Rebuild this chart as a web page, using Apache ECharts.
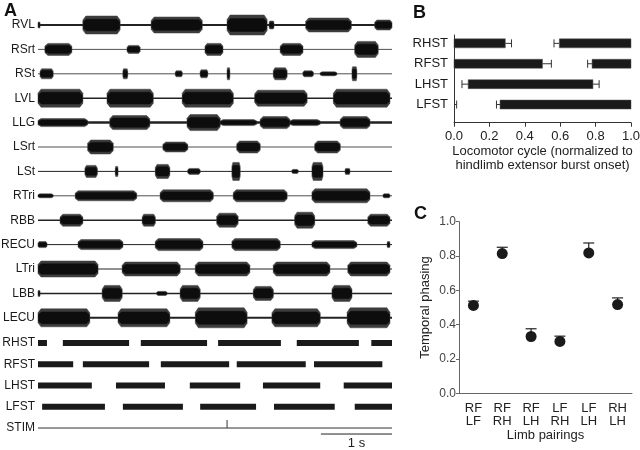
<!DOCTYPE html>
<html><head><meta charset="utf-8">
<script src="https://cdn.jsdelivr.net/npm/echarts@6/dist/echarts.min.js"></script>
<style>html,body{margin:0;padding:0;background:#fff}#c{width:640px;height:450px}</style>
</head><body><div id="c"></div>
<script>
// ---------- Panel A data ----------
const traceEnd = 5.13; // seconds shown
const emgNames = ['RVL','RSrt','RSt','LVL','LLG','LSrt','LSt','RTri','RBB','RECU','LTri','LBB','LECU'];
// bursts: [start (s), end (s), amplitude]
const RVL  = [[0,0.03,3],[0.65,1.19,9],[1.64,2.38,8],[2.74,3.32,10],[3.35,3.42,4],[3.88,4.54,7],[4.88,5.13,5]];
const RSrt = [[0.10,0.49,6],[1.29,1.48,4],[2.42,2.68,6],[3.51,3.84,6],[4.59,4.93,8]];
const RSt  = [[0.03,0.22,5],[1.23,1.30,5],[1.99,2.09,3],[2.35,2.46,4],[2.74,2.78,6],[3.41,3.61,6],[3.84,3.99,3],[4.09,4.33,2],[4.55,4.62,7]];
const LVL  = [[0,0.65,9],[1.00,1.67,9],[2.09,2.83,9],[3.14,3.90,8],[4.28,5.10,9]];
const LLG  = [[0,0.72,4],[1.04,1.62,7],[2.16,2.64,8],[2.64,3.17,3],[3.22,3.65,6],[3.65,4.09,3],[4.38,4.81,6]];
const LSrt = [[0.72,1.09,7],[1.81,2.17,5],[2.88,3.22,6],[4.01,4.38,6]];
const LSt  = [[0.68,0.86,6],[1.12,1.16,5],[1.70,1.91,7],[2.17,2.35,3],[2.81,2.93,9],[3.68,3.77,2],[3.97,4.13,9],[4.45,4.52,3]];
const RTri = [[0,0.22,2],[0.54,1.43,5],[1.77,2.54,6],[2.83,3.61,6],[3.97,4.81,7],[5.00,5.10,2]];
const RBB  = [[0.32,0.65,6],[1.51,1.70,6],[2.59,2.90,7],[3.72,4.01,8],[4.78,5.10,6]];
const RECU = [[0,0.13,3],[0.58,1.23,5],[1.70,2.39,6],[2.81,3.51,6],[3.97,4.62,4],[5.06,5.10,3]];
const LTri = [[0,0.87,8],[1.22,2.06,7],[2.28,3.07,7],[3.41,4.23,7],[4.49,5.10,7]];
const LBB  = [[0,0.03,3],[0.93,1.22,8],[1.72,1.87,2],[2.06,2.35,8],[3.12,3.41,7],[4.26,4.55,8]];
const LECU = [[0,0.75,9],[1.16,1.91,9],[2.28,3.03,10],[3.39,4.09,9],[4.48,5.10,10]];
const emgBursts = [RVL,RSrt,RSt,LVL,LLG,LSrt,LSt,RTri,RBB,RECU,LTri,LBB,LECU];

const stanceRows = ['RHST','RFST','LHST','LFST','STIM'];
const RHST = [[0,0.13],[0.36,1.32],[1.49,2.45],[2.61,3.52],[3.75,4.65],[4.83,5.13]];
const RFST = [[0,0.51],[0.65,1.61],[1.78,2.77],[2.88,3.88],[4.00,4.99]];
const LHST = [[0,0.78],[1.13,1.84],[2.20,2.93],[3.26,4.09],[4.43,5.13]];
const LFST = [[0.06,0.97],[1.23,2.10],[2.35,3.16],[3.42,4.30],[4.59,5.13]];
const stanceBars = [RHST,RFST,LHST,LFST];
const stimTimes = [2.74];
const scaleBar = [4.10, 5.13]; // 1 s

// ---------- Panel B data ----------
const phaseNames = ['RHST','RFST','LHST','LFST'];
const offMean = [0.29, 0.50, 0.785, 0.0];
const offSem  = [0.035, 0.05, 0.035, 0.015];
const onMean  = [0.595, 0.78, 0.08, 0.26];
const onSem   = [0.03, 0.025, 0.035, 0.02];

// ---------- Panel C data ----------
const pairTop = ['RF','RF','RF','LF','LF','RH'];
const pairBottom = ['LF','RH','LH','RH','LH','LH'];
const phasingMean = [0.512, 0.814, 0.331, 0.302, 0.818, 0.517];
const phasingSem  = [0.025, 0.037, 0.045, 0.031, 0.058, 0.039];

// ---------- styles ----------
const baseWidth = [2,0.8,0.8,1.5,2.5,0.8,1,0.8,1.5,1,1,1.5,2];
const INK = '#1a1a1a';
const FONT = 'Liberation Sans, Arial, Helvetica, sans-serif';

// build data
const burstData = [];
emgBursts.forEach((arr, r) => arr.forEach(b => burstData.push([r, b[0], b[1], b[2]])));
const baseData = emgNames.map((n, r) => [r, 0, traceEnd]);
const stanceData = [];
stanceBars.forEach((arr, r) => arr.forEach(b => stanceData.push([r, b[0], b[1]])));

const phaseBarData = [], phaseErrData = [];
phaseNames.forEach((n, r) => {
  if (onMean[r] < offMean[r]) {
    phaseBarData.push([r, onMean[r], offMean[r]]);
  } else {
    if (offMean[r] > 0) phaseBarData.push([r, 0, offMean[r]]);
    phaseBarData.push([r, onMean[r], 1]);
  }
  phaseErrData.push([r, offMean[r], offMean[r] + offSem[r]]);
  phaseErrData.push([r, onMean[r], onMean[r] - onSem[r]]);
});
const pairLabels = pairTop.map((t, i) => t + '\n' + pairBottom[i]);

const chart = echarts.init(document.getElementById('c'), null, {renderer: 'canvas'});

const lbl = (size, color, extra) => Object.assign({color: color, fontSize: size, fontFamily: FONT}, extra || {});

function envelope(x0, x1, y, h) {
  const w = x1 - x0;
  const e = Math.min(w * 0.12, 3);
  return [
    [x0, y - h * 0.55], [x0 + e, y - h], [x1 - e, y - h], [x1, y - h * 0.55],
    [x1, y + h * 0.55], [x1 - e, y + h], [x0 + e, y + h], [x0, y + h * 0.55]];
}

const option = {
  animation: false,
  backgroundColor: '#fff',
  textStyle: {fontFamily: FONT},
  grid: [
    {left: 38, width: 354, top: 12.8, height: 317.2, outerBoundsMode: 'none', containLabel: false},
    {left: 38, width: 354, top: 332.4, height: 106.25, outerBoundsMode: 'none', containLabel: false},
    {left: 454, width: 177, top: 35, height: 87.7, outerBoundsMode: 'none', containLabel: false},
    {left: 459, width: 173, top: 221.7, height: 171.6, outerBoundsMode: 'none', containLabel: false}
  ],
  xAxis: [
    {gridIndex: 0, type: 'value', min: 0, max: traceEnd, show: false},
    {gridIndex: 1, type: 'value', min: 0, max: traceEnd, show: false},
    {gridIndex: 2, type: 'value', min: 0, max: 1, interval: 0.2,
     axisLine: {onZero: false, lineStyle: {color: '#333', width: 1}},
     axisTick: {show: true, length: 4, lineStyle: {color: '#333'}},
     splitLine: {show: false},
     axisLabel: lbl(13, '#222', {margin: 7, formatter: v => v.toFixed(1)}),
     name: 'Locomotor cycle (normalized to\nhindlimb extensor burst onset)',
     nameLocation: 'middle', nameGap: 22,
     nameTextStyle: lbl(13, '#222', {lineHeight: 14})},
    {gridIndex: 3, type: 'category', data: pairLabels, boundaryGap: true,
     axisLine: {onZero: false, lineStyle: {color: '#666'}},
     axisTick: {alignWithLabel: true, length: 4, lineStyle: {color: '#666'}},
     axisLabel: lbl(13, '#222', {lineHeight: 13, margin: 9}),
     name: 'Limb pairings', nameLocation: 'middle', nameGap: 33,
     nameTextStyle: lbl(13, '#222')}
  ],
  yAxis: [
    {gridIndex: 0, type: 'category', data: emgNames, inverse: true,
     axisLine: {show: false}, axisTick: {show: false},
     axisLabel: lbl(12, '#1a1a1a', {margin: 3})},
    {gridIndex: 1, type: 'category', data: stanceRows, inverse: true,
     axisLine: {show: false}, axisTick: {show: false},
     axisLabel: lbl(12, '#1a1a1a', {margin: 3})},
    {gridIndex: 2, type: 'value', inverse: true, min: -0.41, max: 3.89,
     splitLine: {show: false},
     axisLine: {show: true, onZero: false, lineStyle: {color: '#333'}}, axisTick: {show: false},
     axisLabel: lbl(13, '#1a1a1a', {customValues: [0,1,2,3], margin: 6,
                 formatter: v => phaseNames[Math.round(v)] || ''})},
    {gridIndex: 3, type: 'value', min: 0, max: 1, interval: 0.2,
     splitLine: {show: false},
     axisLine: {show: true, onZero: false, lineStyle: {color: '#666'}},
     axisTick: {show: true, length: 3, lineStyle: {color: '#666'}},
     axisLabel: lbl(12, '#444', {margin: 3, formatter: v => v.toFixed(1)}),
     name: 'Temporal phasing', nameLocation: 'middle', nameGap: 27, nameRotate: 90,
     nameTextStyle: lbl(13, '#222')}
  ],
  series: [
    // EMG baselines
    {type: 'custom', xAxisIndex: 0, yAxisIndex: 0, data: baseData, encode: {x: [1,2], y: 0},
     renderItem: (params, api) => {
       const r = api.value(0);
       const a = api.coord([api.value(1), r]), b = api.coord([api.value(2), r]);
       return {type: 'line', shape: {x1: a[0], y1: a[1], x2: b[0], y2: b[1]},
               style: {stroke: '#222', lineWidth: baseWidth[r]}};
     }},
    // EMG bursts (envelope + dense core)
    {type: 'custom', xAxisIndex: 0, yAxisIndex: 0, data: burstData, encode: {x: [1,2], y: 0},
     renderItem: (params, api) => {
       const r = api.value(0);
       const p0 = api.coord([api.value(1), r]), p1 = api.coord([api.value(2), r]);
       const band = api.size([0, 1])[1];
       const h = api.value(3) / 24.4 * band;
       return {type: 'group', children: [
         {type: 'polygon', shape: {points: envelope(p0[0], p1[0], p0[1], h)},
          style: {fill: '#3c3c3c', stroke: '#3c3c3c', lineWidth: 0.5}},
         {type: 'polygon', shape: {points: envelope(p0[0] + 0.5, p1[0] - 0.5, p0[1], h * 0.65)},
          style: {fill: '#0d0d0d', stroke: '#0d0d0d', lineWidth: 0.5}}
       ]};
     }},
    // stance bars
    {type: 'custom', xAxisIndex: 1, yAxisIndex: 1, data: stanceData, encode: {x: [1,2], y: 0},
     renderItem: (params, api) => {
       const r = api.value(0);
       const p0 = api.coord([api.value(1), r]), p1 = api.coord([api.value(2), r]);
       const hh = 3;
       return {type: 'rect', shape: {x: p0[0], y: p0[1] - hh, width: p1[0] - p0[0], height: hh * 2},
               style: {fill: INK}};
     }},
    // STIM line
    {type: 'custom', xAxisIndex: 1, yAxisIndex: 1, data: [[4, 0, traceEnd]], encode: {x: [1,2], y: 0},
     renderItem: (params, api) => {
       const a = api.coord([api.value(1), 4]), b = api.coord([api.value(2), 4]);
       const children = [{type: 'line', shape: {x1: a[0], y1: a[1], x2: b[0], y2: b[1]},
                          style: {stroke: '#333', lineWidth: 1}}];
       stimTimes.forEach(t => {
         const s = api.coord([t, 4]);
         children.push({type: 'line', shape: {x1: s[0], y1: s[1] - 8, x2: s[0], y2: s[1]},
                        style: {stroke: '#333', lineWidth: 1}});
       });
       return {type: 'group', children};
     }},
    // Panel B bars
    {type: 'custom', xAxisIndex: 2, yAxisIndex: 2, data: phaseBarData, encode: {x: [1,2], y: 0},
     renderItem: (params, api) => {
       const r = api.value(0);
       const p0 = api.coord([api.value(1), r]), p1 = api.coord([api.value(2), r]);
       const hh = 4.5;
       return {type: 'rect', shape: {x: p0[0], y: p0[1] - hh, width: p1[0] - p0[0], height: hh * 2},
               style: {fill: INK, stroke: '#555', lineWidth: 0.5}};
     }, z: 3},
    // Panel B whiskers
    {type: 'custom', xAxisIndex: 2, yAxisIndex: 2, data: phaseErrData, encode: {x: [1,2], y: 0},
     renderItem: (params, api) => {
       const r = api.value(0);
       const p0 = api.coord([api.value(1), r]), p1 = api.coord([api.value(2), r]);
       return {type: 'line', shape: {x1: p0[0], y1: p0[1], x2: p1[0], y2: p1[1]},
               style: {stroke: '#333', lineWidth: 1}};
     }, z: 2},
    // Panel B caps
    {type: 'custom', xAxisIndex: 2, yAxisIndex: 2, data: phaseErrData, encode: {x: [1,2], y: 0},
     renderItem: (params, api) => {
       const r = api.value(0);
       const p1 = api.coord([api.value(2), r]);
       return {type: 'line', shape: {x1: p1[0], y1: p1[1] - 4, x2: p1[0], y2: p1[1] + 4},
               style: {stroke: '#333', lineWidth: 1}};
     }, z: 2},
    // Panel C error bars (upper only)
    {type: 'custom', xAxisIndex: 3, yAxisIndex: 3,
     data: phasingMean.map((m, i) => [i, m, m + phasingSem[i]]), encode: {x: 0, y: [1,2]},
     renderItem: (params, api) => {
       const i = api.value(0);
       const p0 = api.coord([i, api.value(1)]), p1 = api.coord([i, api.value(2)]);
       return {type: 'line', shape: {x1: p0[0], y1: p0[1], x2: p1[0], y2: p1[1]},
               style: {stroke: '#222', lineWidth: 1.2}};
     }},
    {type: 'custom', xAxisIndex: 3, yAxisIndex: 3,
     data: phasingMean.map((m, i) => [i, m + phasingSem[i]]), encode: {x: 0, y: 1},
     renderItem: (params, api) => {
       const p1 = api.coord([api.value(0), api.value(1)]);
       return {type: 'line', shape: {x1: p1[0] - 5.5, y1: p1[1], x2: p1[0] + 5.5, y2: p1[1]},
               style: {stroke: '#222', lineWidth: 1.2}};
     }},
    // Panel C points
    {type: 'scatter', xAxisIndex: 3, yAxisIndex: 3, data: phasingMean.map((m, i) => [i, m]),
     symbol: 'circle', symbolSize: 11, itemStyle: {color: INK, opacity: 1}, z: 4}
  ]
};
chart.setOption(option);

// panel letters and scale bar
const sb0 = chart.convertToPixel({xAxisIndex: 1, yAxisIndex: 1}, [scaleBar[0], 4]);
const sb1 = chart.convertToPixel({xAxisIndex: 1, yAxisIndex: 1}, [scaleBar[1], 4]);
chart.setOption({
  graphic: [
    {type: 'text', left: 4, top: 2, style: {text: 'A', font: 'bold 18px ' + FONT, fill: '#111'}},
    {type: 'text', left: 413, top: 4, style: {text: 'B', font: 'bold 18px ' + FONT, fill: '#111'}},
    {type: 'text', left: 414, top: 205, style: {text: 'C', font: 'bold 18px ' + FONT, fill: '#111'}},
    {type: 'line', shape: {x1: sb0[0], y1: sb0[1] + 6, x2: sb1[0], y2: sb1[1] + 6}, style: {stroke: '#222', lineWidth: 1}},
    {type: 'text', x: (sb0[0] + sb1[0]) / 2, y: sb0[1] + 9,
     style: {text: (scaleBar[1] - scaleBar[0]).toFixed(0) + ' s', font: '13px ' + FONT, fill: '#222', align: 'center', verticalAlign: 'top'}}
  ]
});
</script></body></html>
